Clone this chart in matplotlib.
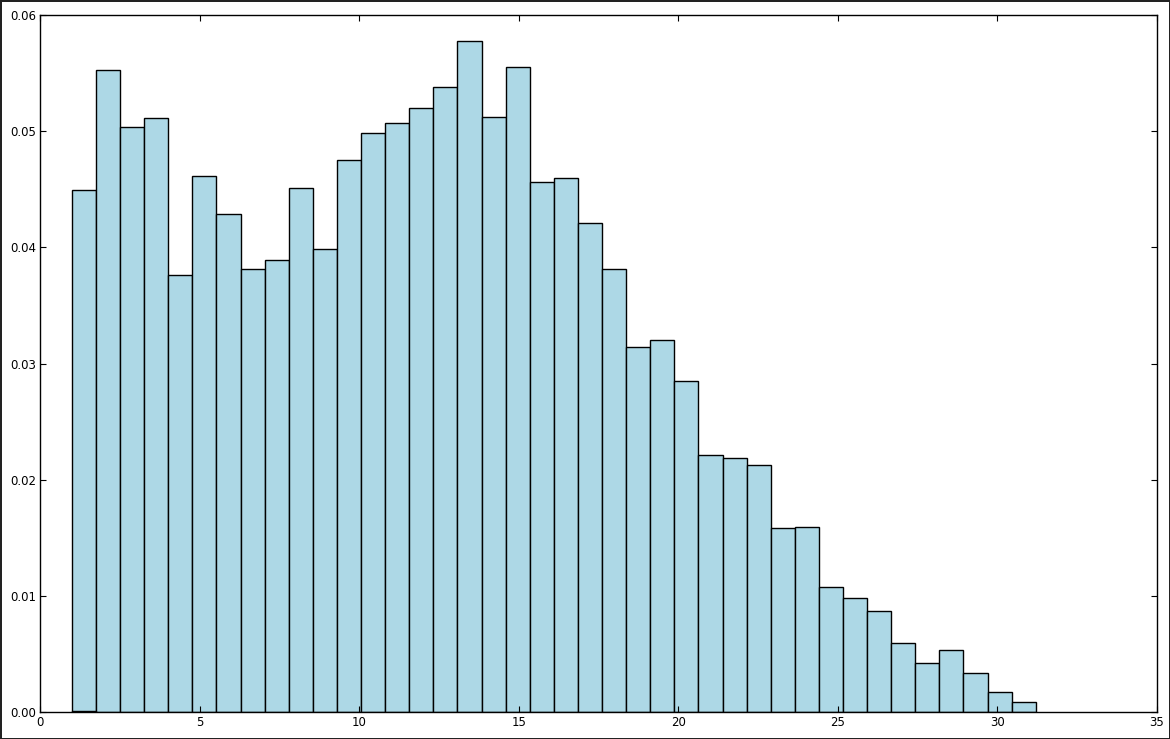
import numpy as np
import matplotlib
matplotlib.use("Agg")
import matplotlib.pyplot as plt

# bar heights (normed histogram)
heights = [0.0449, 0.0553, 0.0504, 0.0511, 0.0376, 0.0461, 0.0429, 0.0381,
           0.0389, 0.0451, 0.0399, 0.0475, 0.0498, 0.0507, 0.0520, 0.0538,
           0.0578, 0.0512, 0.0555, 0.0456, 0.0460, 0.0421, 0.0381, 0.0314,
           0.0320, 0.0285, 0.0221, 0.0219, 0.0213, 0.0158, 0.0159, 0.0108,
           0.0098, 0.0087, 0.0059, 0.0042, 0.0053, 0.0034, 0.0017, 0.0009]
bin_start = 1.0
bin_end = 31.2
x_ticks = [0, 5, 10, 15, 20, 25, 30, 35]
y_ticks = [0.00, 0.01, 0.02, 0.03, 0.04, 0.05, 0.06]

edges = np.linspace(bin_start, bin_end, len(heights) + 1)
centers = (edges[:-1] + edges[1:]) / 2

fig = plt.figure(figsize=(11.7, 7.39), dpi=100)
fig.patch.set_edgecolor("#222222")
fig.patch.set_linewidth(2)
ax = fig.add_axes([0.0342, 0.0365, 0.9547, 0.9432])

ax.hist(centers, bins=edges, weights=heights, color="lightblue",
        edgecolor="black", linewidth=1.0)
# tiny bar sitting at the bottom of the first bin
ax.bar(edges[0], 0.0001, width=edges[1] - edges[0], align="edge",
       color="lightblue", edgecolor="black", linewidth=1.0)

ax.set_xlim(0, 35)
ax.set_ylim(0, 0.06)
ax.set_xticks(x_ticks)
ax.set_yticks(y_ticks)
ax.set_yticklabels(["%.2f" % t for t in y_ticks])
ax.tick_params(direction="in", top=True, right=True, length=4, width=0.8,
               labelsize=8.5, pad=3)
for s in ax.spines.values():
    s.set_linewidth(1.0)

fig.savefig("out.png", dpi=100, edgecolor=fig.get_edgecolor())
